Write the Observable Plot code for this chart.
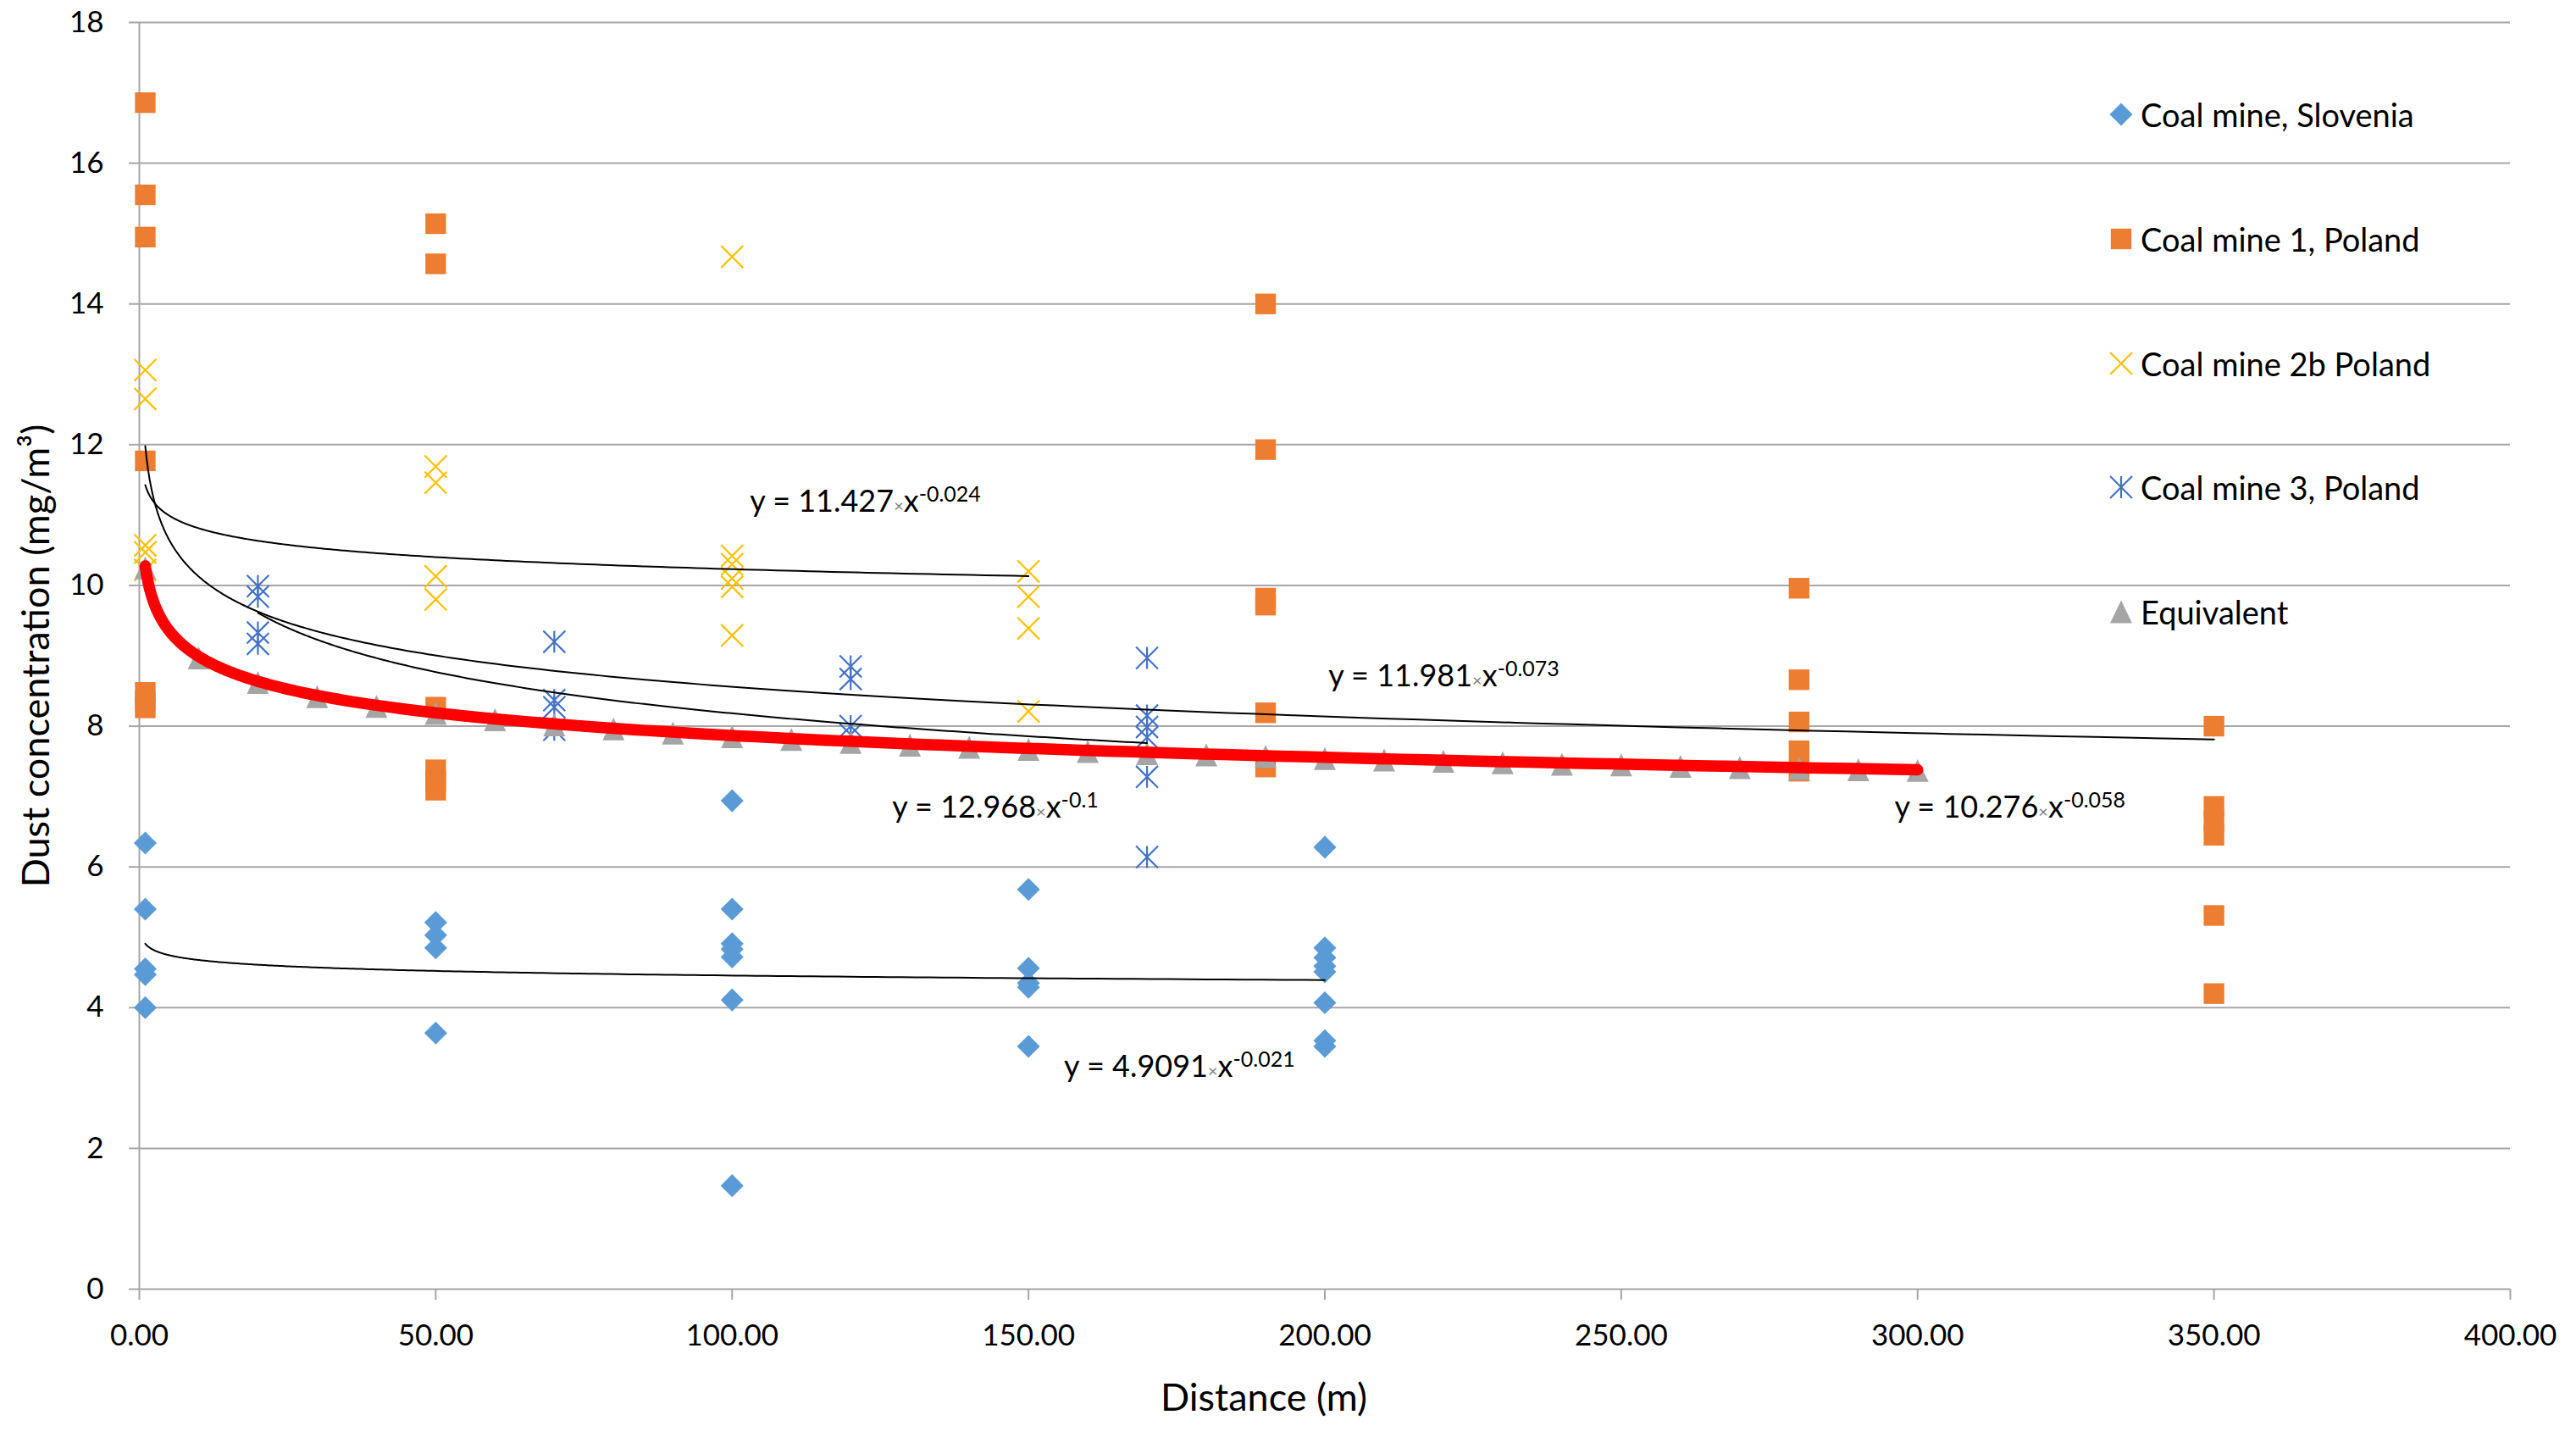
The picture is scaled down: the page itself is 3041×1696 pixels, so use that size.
<!DOCTYPE html>
<html>
<head>
<meta charset="utf-8">
<script src="https://cdn.jsdelivr.net/npm/d3@7"></script>
<script src="https://cdn.jsdelivr.net/npm/@observablehq/plot@0.6"></script>
<style>
  html, body { margin: 0; padding: 0; background: #fff; }
  #wrap { position: relative; width: 3041px; height: 1696px; font-family: Lato, "Open Sans", sans-serif; }
  .leg { position: absolute; display: flex; align-items: center; height: 50px; font-size: 38px; color: #000; white-space: nowrap; }
  .leg svg { margin-right: 7px; }
</style>
</head>
<body>
<div id="wrap"></div>
<script>
// ---------- data ----------
const xTicks = [0, 50, 100, 150, 200, 250, 300, 350, 400];
const yTicks = [0, 2, 4, 6, 8, 10, 12, 14, 16, 18];

const seriesNames = ["Coal mine, Slovenia", "Coal mine 1, Poland", "Coal mine 2b Poland", "Coal mine 3, Poland", "Equivalent"];

const sloveniaX = [1, 50, 100, 150, 200];
const sloveniaY = [
  [6.34, 5.40, 4.55, 4.47, 4.00],
  [5.21, 5.03, 4.85, 3.64],
  [6.94, 5.40, 4.91, 4.83, 4.72, 4.11, 1.47],
  [5.68, 4.56, 4.35, 4.29, 3.45],
  [6.28, 4.85, 4.71, 4.59, 4.51, 4.07, 3.53, 3.45]
];

const mine1X = [1, 50, 190, 280, 350];
const mine1Y = [
  [16.86, 15.55, 14.95, 11.77, 8.48, 8.36, 8.26],
  [15.14, 14.57, 8.27, 7.38, 7.22, 7.09],
  [14.00, 11.93, 9.82, 9.72, 8.19, 7.42],
  [9.96, 8.66, 8.06, 7.65, 7.36],
  [8.00, 6.86, 6.65, 6.45, 5.31, 4.20]
];

const mine2bX = [1, 50, 100, 150];
const mine2bY = [
  [13.06, 12.65, 10.57, 10.47, 10.22],
  [11.69, 11.46, 10.13, 9.80],
  [14.67, 10.42, 10.30, 10.10, 9.98, 9.29],
  [10.20, 9.84, 9.39, 8.21]
];

const mine3X = [20, 70, 120, 170];
const mine3Y = [
  [9.99, 9.84, 9.33, 9.17],
  [9.20, 8.37, 8.27, 7.95],
  [8.85, 8.67, 8.00, 7.88],
  [8.97, 8.15, 7.99, 7.84, 7.28, 6.14]
];

const equivX = [1, 10, 20, 30, 40, 50, 60, 70, 80, 90, 100, 110, 120, 130, 140, 150,
                160, 170, 180, 190, 200, 210, 220, 230, 240, 250, 260, 270, 280, 290, 300];
const equivY = [10.25, 8.97, 8.62, 8.42, 8.28, 8.18, 8.09, 8.02, 7.96, 7.90, 7.85, 7.81, 7.77, 7.73, 7.70, 7.67,
                7.64, 7.61, 7.59, 7.57, 7.54, 7.52, 7.50, 7.48, 7.46, 7.45, 7.43, 7.41, 7.40, 7.38, 7.37];

// power trendlines printed on the chart: y = a * x^b, drawn over the series' x range
const trendA    = [4.9091, 11.981, 11.427, 12.968, 10.276];
const trendB    = [-0.021, -0.073, -0.024, -0.1, -0.058];
const trendFrom = [1, 1, 1, 20, 1];
const trendTo   = [200, 350, 150, 170, 300];
const trendLabelX = [156, 200.6, 103, 127, 296.1];
const trendLabelY = [3.16, 8.70, 11.19, 6.84, 6.84];

const colors = ["#5B9BD5", "#ED7D31", "#FFC000", "#4472C4", "#A5A5A5"];
const gridColor = "#a6a6a6";

// Excel-style "star" marker: an X with a vertical bar, as wide as it is tall
const starSymbol = {
  draw(context, size) {
    const h = Math.sqrt(size) * 0.6;
    context.moveTo(-h, -h); context.lineTo(h, h);
    context.moveTo(-h, h); context.lineTo(h, -h);
    context.moveTo(0, -h); context.lineTo(0, h);
  }
};
// Excel-style triangle marker: centred on its bounding box
const triSymbol = {
  draw(context, size) {
    const h = Math.sqrt(size) * 0.6;
    context.moveTo(0, -h * 1.04);
    context.lineTo(h, h * 1.04);
    context.lineTo(-h, h * 1.04);
    context.closePath();
  }
};

// ---------- build tables ----------
function flatten(xs, ys) {
  const out = [];
  xs.forEach((x, i) => ys[i].forEach(y => out.push({x, y})));
  return out;
}
const slovenia = flatten(sloveniaX, sloveniaY);
const mine1 = flatten(mine1X, mine1Y);
const mine2b = flatten(mine2bX, mine2bY);
const mine3 = flatten(mine3X, mine3Y);
const equiv = equivX.map((x, i) => ({x, y: equivY[i]}));

const trends = trendA.map((a, k) => {
  const from = trendFrom[k], to = trendTo[k], n = 300;
  return d3.range(n + 1).map(i => {
    const x = from * Math.pow(to / from, i / n);
    return {k, x, y: a * Math.pow(x, trendB[k])};
  });
});
const blackTrends = trends.slice(0, 4).flat();
const redTrend = trends[4];
const eqLabels = trendA.map((a, k) => ({x: trendLabelX[k], y: trendLabelY[k], t: `y = ${a}|${trendB[k]}`}));

// ---------- chart ----------
const chart = Plot.plot({
  width: 3041,
  height: 1696,
  marginLeft: 164,
  marginRight: 78,
  marginTop: 26,
  marginBottom: 175,
  style: {fontFamily: "Lato, 'Open Sans', sans-serif", fontSize: "34px", background: "#fff", color: "#000"},
  x: {domain: [0, 400]},
  y: {domain: [0, 18]},
  marks: [
    Plot.gridY(yTicks, {stroke: gridColor, strokeOpacity: 1, strokeWidth: 2}),
    Plot.ruleX([0], {stroke: gridColor, strokeWidth: 2}),
    Plot.axisY(yTicks, {tickSize: 12, tickPadding: 30, stroke: gridColor, strokeWidth: 2, fill: "#000", fontSize: 35, label: null, tickFormat: d => String(d)}),
    Plot.axisX(xTicks, {tickSize: 13, tickPadding: 29, stroke: gridColor, strokeWidth: 2, fill: "#000", fontSize: 35, label: null, tickFormat: d => d.toFixed(2)}),
    Plot.dot(slovenia, {x: "x", y: "y", symbol: "diamond2", r: 12.2, fill: colors[0], stroke: "none"}),
    Plot.dot(mine1, {x: "x", y: "y", symbol: "square2", r: 15.5, fill: colors[1], stroke: "none"}),
    Plot.dot(mine2b, {x: "x", y: "y", symbol: "times", r: 11.9, fill: "none", stroke: colors[2], strokeWidth: 2.2}),
    Plot.dot(mine3, {x: "x", y: "y", symbol: starSymbol, r: 12.2, fill: "none", stroke: colors[3], strokeWidth: 2.2}),
    Plot.dot(equiv, {x: "x", y: "y", symbol: triSymbol, r: 12.2, fill: colors[4], stroke: "none"}),
    Plot.line(blackTrends, {x: "x", y: "y", z: "k", stroke: "#000", strokeWidth: 2}),
    Plot.line(redTrend, {x: "x", y: "y", stroke: "#FF0000", strokeWidth: 13.5, strokeLinecap: "round", strokeLinejoin: "round"}),
    Plot.text(eqLabels, {x: "x", y: "y", text: "t", textAnchor: "start", lineAnchor: "middle", fontSize: 36, fill: "#000"}),
    Plot.text(["Dust concentration (mg/m³)"], {frameAnchor: "left", dx: -121, rotate: -90, textAnchor: "middle", lineAnchor: "middle", fontSize: 45, fill: "#000"}),
    Plot.text(["Distance (m)"], {frameAnchor: "bottom", dy: 129, dx: -72, textAnchor: "middle", lineAnchor: "middle", fontSize: 45, fill: "#000"})
  ]
});

// rich equation text: small grey multiplication sign and superscript exponent
const SVGNS = "http://www.w3.org/2000/svg";
chart.querySelectorAll("text").forEach(t => {
  const s = t.textContent;
  if (!s.startsWith("y = ") || s.indexOf("|") < 0) return;
  const [base, expo] = s.split("|");
  while (t.firstChild) t.removeChild(t.firstChild);
  t.appendChild(document.createTextNode(base));
  const times = document.createElementNS(SVGNS, "tspan");
  times.setAttribute("fill", "#808080");
  times.setAttribute("font-size", "20px");
  times.textContent = "×";
  t.appendChild(times);
  const xx = document.createElementNS(SVGNS, "tspan");
  xx.textContent = "x";
  t.appendChild(xx);
  const ex = document.createElementNS(SVGNS, "tspan");
  ex.setAttribute("font-size", "25px");
  ex.setAttribute("dy", "-12");
  ex.textContent = expo;
  t.appendChild(ex);
});

const wrap = document.getElementById("wrap");
wrap.appendChild(chart);

// ---------- legend ----------
const legendSymbols = [d3.symbolDiamond2, d3.symbolSquare2, d3.symbolTimes, starSymbol, triSymbol];
const legendSizes = [12.2, 15.5, 11.9, 12.2, 12.2];
const legendStroke = [false, false, true, true, false];
const legendCenterY = [135, 282, 429, 575, 722];
seriesNames.forEach((name, i) => {
  const row = document.createElement("div");
  row.className = "leg";
  row.style.left = (2504 - 16) + "px";
  row.style.top = (legendCenterY[i] - 25) + "px";
  const svg = d3.create("svg").attr("width", 32).attr("height", 32);
  const r = legendSizes[i];
  const path = d3.symbol(legendSymbols[i], Math.PI * r * r)();
  const p = svg.append("path").attr("d", path).attr("transform", "translate(16,16)");
  if (legendStroke[i]) p.attr("fill", "none").attr("stroke", colors[i]).attr("stroke-width", 2.2);
  else p.attr("fill", colors[i]);
  row.appendChild(svg.node());
  const span = document.createElement("span");
  span.textContent = name;
  row.appendChild(span);
  wrap.appendChild(row);
});
</script>
</body>
</html>
